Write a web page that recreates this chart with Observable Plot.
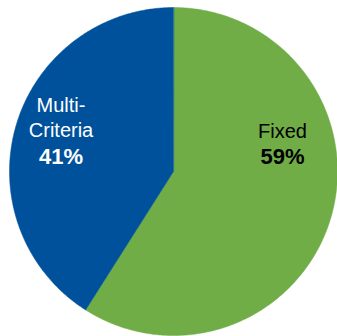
<!DOCTYPE html>
<html><head><meta charset="utf-8">
<script src="https://cdn.jsdelivr.net/npm/d3@7"></script>
<script src="https://cdn.jsdelivr.net/npm/@observablehq/plot@0.6"></script>
<style>body{margin:0;background:#fff}</style>
</head><body><div id="chart"></div>
<script>
const categories = ["Fixed", "Multi-Criteria"];
const shares = [59, 41];
const nameLines = [["Fixed"], ["Multi-", "Criteria"]];
const colors = ["#70AD47", "#00519C"];
const textColors = ["#000000", "#ffffff"];

const W = 337, H = 336;
const cx = 173, cy = 171, R = 164;
// pixel label anchors: [centerX, baseline of last name line, baseline of percent]
const labelPos = [[282, 137, 163], [60.5, 136, 163]];
const nameLineStep = 25;

const arcs = d3.pie().sort(null).value(d => d)(shares);
const poly = [];
arcs.forEach((a, i) => {
  const n = Math.max(4, Math.ceil((a.endAngle - a.startAngle) / 0.01));
  poly.push({cat: categories[i], x: 0, y: 0});
  for (let k = 0; k <= n; k++) {
    const t = a.startAngle + (a.endAngle - a.startAngle) * k / n;
    poly.push({cat: categories[i], x: Math.sin(t), y: Math.cos(t)});
  }
});
const toX = px => (px - cx) / R, toY = py => (cy - py) / R;
const nameTexts = [], pctTexts = [];
categories.forEach((c, i) => {
  const [px, pyLast, pyPct] = labelPos[i];
  const lines = nameLines[i];
  lines.forEach((l, j) => {
    const py = pyLast - (lines.length - 1 - j) * nameLineStep;
    nameTexts.push({cat: c, text: l, x: toX(px), y: toY(py), color: textColors[i]});
  });
  pctTexts.push({cat: c, text: shares[i] + "%", x: toX(px), y: toY(pyPct), color: textColors[i]});
});

const chart = Plot.plot({
  width: W, height: H,
  marginLeft: cx - R, marginRight: W - (cx + R),
  marginTop: cy - R, marginBottom: H - (cy + R),
  x: {domain: [-1, 1], axis: null},
  y: {domain: [-1, 1], axis: null},
  color: {domain: categories, range: colors},
  style: {fontFamily: "Liberation Sans, Arial, sans-serif", background: "#fff"},
  marks: [
    Plot.line(poly, {x: "x", y: "y", z: "cat", fill: "cat", stroke: "cat", strokeWidth: 0.5, curve: "linear-closed"}),
    Plot.text(nameTexts, {x: "x", y: "y", text: "text", fill: "color", fontSize: 20, textAnchor: "middle", lineAnchor: "bottom"}),
    Plot.text(pctTexts, {x: "x", y: "y", text: "text", fill: "color", fontSize: 22, fontWeight: "bold", textAnchor: "middle", lineAnchor: "bottom"})
  ]
});
document.getElementById("chart").appendChild(chart);
</script></body></html>
